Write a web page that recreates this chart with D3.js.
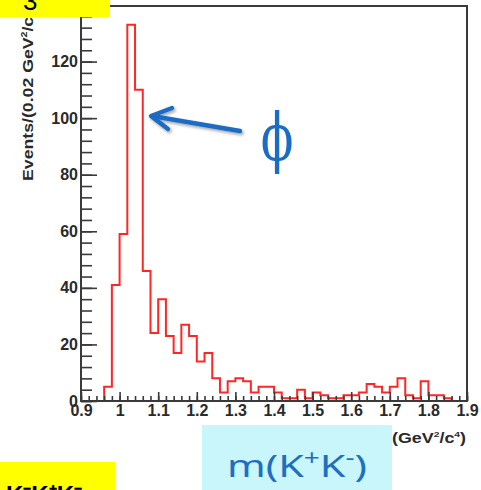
<!DOCTYPE html>
<html>
<head>
<meta charset="utf-8">
<script src="https://cdn.jsdelivr.net/npm/d3@7"></script>
<style>
  body { margin: 0; background: #fff; }
  svg { display: block; }
</style>
</head>
<body>
<div id="chart"></div>
<script>
// histogram data: m(K+K-) in bins of 0.02 GeV
const binLow = [0.90, 0.92, 0.94, 0.96, 0.98, 1.00, 1.02, 1.04, 1.06, 1.08,
                1.10, 1.12, 1.14, 1.16, 1.18, 1.20, 1.22, 1.24, 1.26, 1.28,
                1.30, 1.32, 1.34, 1.36, 1.38, 1.40, 1.42, 1.44, 1.46, 1.48,
                1.50, 1.52, 1.54, 1.56, 1.58, 1.60, 1.62, 1.64, 1.66, 1.68,
                1.70, 1.72, 1.74, 1.76, 1.78, 1.80, 1.82, 1.84, 1.86, 1.88];
const counts = [0, 0, 0, 5, 41, 59, 133, 110, 46, 24,
                36, 23, 17, 27, 23, 14, 17, 8, 3, 7,
                8, 7, 3, 5, 5, 3, 1, 1, 4, 1,
                3, 2, 1, 1, 2, 2, 3, 6, 5, 3,
                5, 8, 2, 1, 7, 2, 2, 1, 0, 0];
const binWidth = 0.02;

// axis ticks
const xMajor = [0.9, 1.0, 1.1, 1.2, 1.3, 1.4, 1.5, 1.6, 1.7, 1.8, 1.9];
const xTickLabels = ["0.9", "1", "1.1", "1.2", "1.3", "1.4", "1.5", "1.6", "1.7", "1.8", "1.9"];
const xMinor = binLow.concat([1.90]);
const yMajor = [0, 20, 40, 60, 80, 100, 120];
const yTickLabels = ["0", "20", "40", "60", "80", "100", "120"];
const yMinor = [0, 4, 8, 12, 16, 20, 24, 28, 32, 36, 40, 44, 48, 52, 56, 60, 64, 68, 72, 76,
                80, 84, 88, 92, 96, 100, 104, 108, 112, 116, 120, 124, 128, 132, 136];

const width = 481, height = 490;
const frame = {left: 81, right: 467, top: 6, bottom: 401};

const svg = d3.select("#chart").append("svg")
              .attr("width", width)
              .attr("height", height);

const x = d3.scaleLinear().domain([0.9, 1.9]).range([frame.left, frame.right]);
const y = d3.scaleLinear().domain([0, 139.65]).range([frame.bottom, frame.top]);

// histogram outline (step)
let path = "M" + x(binLow[0]) + "," + y(0);
counts.forEach((c, i) => {
  path += "V" + y(c) + "H" + x(binLow[i] + binWidth);
});
path += "V" + y(0);

svg.append("path")
   .attr("d", path)
   .attr("fill", "none")
   .attr("stroke", "#ff2626")
   .attr("stroke-width", 2);

// frame
svg.append("rect")
   .attr("x", frame.left)
   .attr("y", frame.top)
   .attr("width", frame.right - frame.left)
   .attr("height", frame.bottom - frame.top)
   .attr("fill", "none")
   .attr("stroke", "#3a3a3a")
   .attr("stroke-width", 2);

// inner ticks
function tickStyle(g) {
  g.select(".domain").remove();
  g.selectAll("line").attr("stroke", "#3a3a3a").attr("stroke-width", 1.6);
}
svg.append("g")
   .attr("transform", "translate(0," + frame.bottom + ")")
   .call(d3.axisTop(x).tickValues(xMinor).tickSize(5).tickFormat(""))
   .call(tickStyle);
svg.append("g")
   .attr("transform", "translate(0," + frame.bottom + ")")
   .call(d3.axisTop(x).tickValues(xMajor).tickSize(9).tickFormat(""))
   .call(tickStyle);
svg.append("g")
   .attr("transform", "translate(" + frame.left + ",0)")
   .call(d3.axisRight(y).tickValues(yMinor).tickSize(11).tickFormat(""))
   .call(tickStyle);
svg.append("g")
   .attr("transform", "translate(" + frame.left + ",0)")
   .call(d3.axisRight(y).tickValues(yMajor).tickSize(16).tickFormat(""))
   .call(tickStyle);

// tick labels
const labelFont = "'Liberation Sans', Arial, sans-serif";
svg.append("g")
   .attr("transform", "translate(0," + frame.bottom + ")")
   .call(d3.axisBottom(x).tickValues(xMajor).tickSize(0).tickPadding(4)
           .tickFormat((d, i) => xTickLabels[i]))
   .call(g => g.select(".domain").remove())
   .call(g => g.selectAll("text")
               .attr("font-family", labelFont)
               .attr("font-weight", "bold")
               .attr("font-size", 16)
               .attr("fill", "#2a2a2a"));
svg.append("g")
   .attr("transform", "translate(" + (frame.left - 1) + ",0)")
   .call(d3.axisLeft(y).tickValues(yMajor).tickSize(0).tickPadding(2)
           .tickFormat((d, i) => yTickLabels[i]))
   .call(g => g.select(".domain").remove())
   .call(g => g.selectAll("text")
               .attr("font-family", labelFont)
               .attr("font-weight", "bold")
               .attr("font-size", 16)
               .attr("fill", "#2a2a2a"));

// y axis title
const yTitle = svg.append("text")
   .attr("transform", "translate(33,181) rotate(-90)")
   .attr("font-family", labelFont)
   .attr("font-weight", "bold")
   .attr("font-size", 15)
   .attr("textLength", 176)
   .attr("lengthAdjust", "spacingAndGlyphs")
   .attr("fill", "#2a2a2a");
yTitle.append("tspan").text("Events/(0.02 GeV");
yTitle.append("tspan").attr("dy", -6).attr("font-size", 9).text("2");
yTitle.append("tspan").attr("dy", 6).text("/c");
yTitle.append("tspan").attr("dy", -6).attr("font-size", 9).text("4");
yTitle.append("tspan").attr("dy", 6).text(")");

// x axis unit
const xUnit = svg.append("text")
   .attr("x", 392)
   .attr("y", 443)
   .attr("font-family", labelFont)
   .attr("font-weight", "bold")
   .attr("font-size", 14)
   .attr("textLength", 74)
   .attr("lengthAdjust", "spacingAndGlyphs")
   .attr("fill", "#2a2a2a");
xUnit.append("tspan").text("(GeV");
xUnit.append("tspan").attr("dy", -6).attr("font-size", 8).text("2");
xUnit.append("tspan").attr("dy", 6).text("/c");
xUnit.append("tspan").attr("dy", -6).attr("font-size", 8).text("4");
xUnit.append("tspan").attr("dy", 6).text(")");

// yellow boxes (slide overlays)
svg.append("rect").attr("x", 0).attr("y", 0).attr("width", 110).attr("height", 17).attr("fill", "#ffff00");
svg.append("text").attr("x", 23).attr("y", 10)
   .attr("font-family", labelFont).attr("font-size", 26).attr("fill", "#000").text("3");
svg.append("rect").attr("x", 0).attr("y", 462).attr("width", 115).attr("height", 28).attr("fill", "#ffff00");
svg.append("text").attr("x", 6).attr("y", 503)
   .attr("font-family", labelFont).attr("font-weight", "bold").attr("font-size", 24)
   .attr("fill", "#000").text("K⁻K⁺K⁻");

// cyan label box
svg.append("rect").attr("x", 202).attr("y", 425).attr("width", 190).attr("height", 65).attr("fill", "#c8f6fa");
const mLabel = svg.append("text")
   .attr("x", 227)
   .attr("y", 477)
   .attr("font-family", "'Noto Sans', 'Open Sans', sans-serif")
   .attr("font-size", 31)
   .attr("textLength", 140)
   .attr("lengthAdjust", "spacingAndGlyphs")
   .attr("fill", "#1f6fc0");
mLabel.append("tspan").text("m(K");
mLabel.append("tspan").attr("dy", -12).attr("font-size", 21).text("+");
mLabel.append("tspan").attr("dy", 12).text("K");
mLabel.append("tspan").attr("dy", -12).attr("font-size", 21).text("-");
mLabel.append("tspan").attr("dy", 12).text(")");

// arrow pointing at the phi peak
const defs = svg.append("defs");
const shadow = defs.append("filter").attr("id", "shadow")
   .attr("x", "-20%").attr("y", "-50%").attr("width", "140%").attr("height", "200%");
shadow.append("feDropShadow").attr("dx", 1.5).attr("dy", 2).attr("stdDeviation", 1.5)
   .attr("flood-color", "#000").attr("flood-opacity", 0.35);

const arrow = svg.append("g").attr("filter", "url(#shadow)")
   .attr("stroke", "#1a6cc4").attr("stroke-width", 4.5)
   .attr("stroke-linecap", "round").attr("stroke-linejoin", "round").attr("fill", "none");
arrow.append("line").attr("x1", 240).attr("y1", 131).attr("x2", 152).attr("y2", 116);
arrow.append("polyline").attr("points", "172,108 151,116 168,129");

svg.append("text")
   .attr("transform", "translate(277,160) scale(1,1.38)")
   .attr("text-anchor", "middle")
   .attr("font-family", "'DejaVu Serif', serif")
   .attr("font-size", 48)
   .attr("fill", "#1a6cc4")
   .text("ϕ");
</script>
</body>
</html>
